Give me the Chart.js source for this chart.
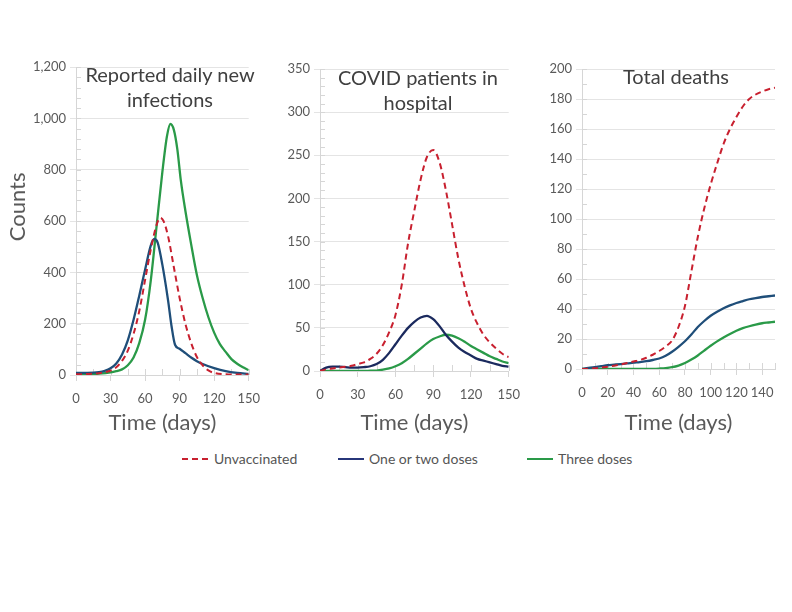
<!DOCTYPE html>
<html>
<head>
<meta charset="utf-8">
<script src="https://cdn.jsdelivr.net/npm/chart.js@4.4.1/dist/chart.umd.min.js"></script>
<style>
  body { margin: 0; background: #fff; font-family: Lato, "Noto Sans", sans-serif; }
  #wrap { position: relative; width: 792px; height: 612px; overflow: hidden; }
  canvas { position: absolute; top: 0; }
  .ptitle { position: absolute; width: 240px; text-align: center; font-size: 20px; line-height: 25px; color: #404040; }
  .leg { position: absolute; top: 451px; font-size: 14px; line-height: 16px; color: #555; }
  .sw { position: absolute; top: 458px; width: 26px; height: 2px; }
</style>
</head>
<body>
<div id="wrap">
  <canvas id="c1" width="270" height="450" style="left:0px"></canvas>
  <canvas id="c2" width="260" height="450" style="left:270px"></canvas>
  <canvas id="c3" width="262" height="450" style="left:530px"></canvas>

  <div class="ptitle" style="left:50px;top:62px">Reported daily new<br>infections</div>
  <div class="ptitle" style="left:298px;top:65px">COVID patients in<br>hospital</div>
  <div class="ptitle" style="left:556px;top:64px">Total deaths</div>

  <div class="sw" style="left:182px;background:repeating-linear-gradient(90deg,#c8202f 0 6px,transparent 6px 10px)"></div>
  <div class="leg" style="left:214px">Unvaccinated</div>
  <div class="sw" style="left:338px;background:#27367a"></div>
  <div class="leg" style="left:369px">One or two doses</div>
  <div class="sw" style="left:527px;background:#2a9a48"></div>
  <div class="leg" style="left:558px">Three doses</div>
</div>
<script>
// Panel 1: reported daily new infections
const unvaxDays1 = [0, 10, 20, 25, 30, 35, 40, 45, 50, 55, 60, 65, 70, 73, 76, 80, 85, 90, 95, 100, 105, 110, 115, 120, 130, 140, 150];
const unvaxInf   = [3, 4, 7, 11, 17, 30, 55, 95, 160, 250, 370, 490, 585, 612, 600, 540, 420, 300, 200, 125, 70, 38, 18, 8, 3, 2, 2];
const oneTwoDays1 = [0, 10, 20, 25, 30, 35, 40, 45, 50, 55, 60, 65, 68, 71, 75, 80, 83, 86, 90, 95, 100, 105, 110, 120, 130, 140, 150];
const oneTwoInf   = [8, 8, 11, 16, 26, 45, 80, 135, 215, 310, 410, 505, 530, 515, 430, 290, 190, 118, 102, 85, 68, 54, 43, 27, 15, 8, 4];
const threeDays1 = [0, 10, 20, 30, 35, 40, 45, 50, 55, 60, 65, 70, 75, 79, 82, 85, 88, 91, 95, 100, 105, 110, 115, 120, 125, 130, 135, 140, 145, 150];
const threeInf   = [2, 3, 5, 10, 15, 22, 38, 68, 125, 215, 370, 580, 790, 930, 978, 955, 880, 760, 640, 510, 390, 300, 225, 165, 120, 90, 62, 44, 30, 19];

// Panels 2 and 3 share a 5-day grid
const days = [0, 5, 10, 15, 20, 25, 30, 35, 40, 45, 50, 55, 60, 65, 70, 75, 80, 85, 90, 95, 100, 105, 110, 115, 120, 125, 130, 135, 140, 145, 150];
const unvaxHosp  = [0, 2, 3, 4, 5, 6, 8, 10, 14, 20, 30, 45, 65, 100, 148, 186, 222, 248, 256, 242, 210, 170, 130, 98, 72, 55, 42, 33, 26, 20, 16];
const oneTwoHosp = [0, 4, 5, 5, 4.5, 4, 4, 4.5, 5.5, 8, 13, 21, 31, 41, 50, 57, 62, 64, 60, 52, 42, 34, 27, 22, 18, 14, 12, 10, 8, 6, 5];
const threeHosp  = [0, 0, 0, 0, 0, 0, 0, 0, 0.3, 0.5, 1.5, 3, 5.5, 9, 14, 20, 26, 32, 37, 40, 42, 41, 38, 34, 29, 25, 21, 17, 14, 11, 9];

const unvaxDeaths  = [0, 0.2, 0.5, 1, 1.5, 2.2, 3, 4, 5, 6, 7.5, 9.5, 12, 15, 19, 28, 42, 65, 88, 107, 123, 137, 150, 160, 168, 175, 180, 183, 185, 186.5, 187.5];
const oneTwoDeaths = [0, 0.7, 1.3, 1.9, 2.5, 2.9, 3.3, 3.7, 4.2, 4.6, 5.2, 6, 7, 8.8, 11.5, 14.8, 18.5, 23, 28, 32, 35.5, 38.2, 40.5, 42.4, 44, 45.3, 46.5, 47.3, 48, 48.5, 49];
const threeDeaths  = [0, 0, 0, 0, 0, 0, 0, 0, 0, 0, 0, 0.1, 0.3, 0.6, 1.2, 2.3, 4, 6.3, 9, 12.3, 15.5, 18.4, 21, 23.4, 25.5, 27.2, 28.5, 29.6, 30.5, 31, 31.5];

// x-axis tick labels
const xTicks30 = [0, 30, 60, 90, 120, 150];
const xTicks20 = [0, 20, 40, 60, 80, 100, 120, 140];

const seriesNames = ["Unvaccinated", "One or two doses", "Three doses"];

const RED = "#c8202f", BLUE = "#1f4e79", NAVY = "#1b2a5e", GREEN = "#2a9a48";
const GRID = "#e4e4e4", AXIS = "#d6d6d6", TICK = "#5a5a5a";
const FONT = "Lato, 'Noto Sans', sans-serif";

function pts(xs, ys) {
  return xs.map((x, i) => ({ x: x, y: ys[i] }));
}

function ds(label, data, color, dashed) {
  return {
    label: label,
    data: data,
    borderColor: color,
    borderWidth: dashed ? 2 : 2.3,
    borderDash: dashed ? [6, 4] : [],
    pointRadius: 0,
    fill: false,
    cubicInterpolationMode: "monotone",
  };
}

// small inward tick marks like the original axes
const minorTicks = {
  id: "minorTicks",
  beforeDatasetsDraw(chart, args, opts) {
    const { ctx, chartArea, scales } = chart;
    const x = scales.x, y = scales.y;
    ctx.save();
    ctx.strokeStyle = AXIS;
    ctx.lineWidth = 1;
    ctx.beginPath();
    for (let v = x.min; v <= x.max + 0.01; v += opts.xStep) {
      const px = Math.round(x.getPixelForValue(v)) + 0.5;
      ctx.moveTo(px, chartArea.bottom - 6);
      ctx.lineTo(px, chartArea.bottom);
    }
    for (let v = y.min; v <= y.max + 0.01; v += opts.yStep) {
      const py = Math.round(y.getPixelForValue(v)) + 0.5;
      ctx.moveTo(chartArea.left, py);
      ctx.lineTo(chartArea.left + 5, py);
    }
    ctx.stroke();
    ctx.restore();
  },
};

function makeChart(id, datasets, o) {
  return new Chart(document.getElementById(id), {
    type: "line",
    data: { datasets: datasets },
    plugins: [minorTicks],
    options: {
      responsive: false,
      animation: false,
      layout: { padding: { top: o.top, right: o.right, bottom: 0, left: 0 } },
      plugins: {
        legend: { display: false },
        tooltip: { enabled: false },
        minorTicks: { xStep: o.xMinor, yStep: o.yMinor },
      },
      scales: {
        x: {
          type: "linear",
          min: 0,
          max: 150,
          ticks: { autoSkip: false, color: TICK, font: { family: FONT, size: 13 }, padding: 10, maxRotation: 0 },
          afterBuildTicks: (s) => { s.ticks = o.xTicks.map((v) => ({ value: v })); },
          grid: { drawOnChartArea: false, tickLength: 6, color: AXIS },
          border: { color: AXIS },
          title: { display: true, text: "Time (days)", color: TICK, font: { family: FONT, size: 22 }, padding: { top: 0, bottom: 14 } },
          afterFit: (s) => { s.height = o.xh; },
        },
        y: {
          min: 0,
          max: o.yMax,
          ticks: { stepSize: o.yStep, color: TICK, font: { family: FONT, size: 13 }, padding: 4 },
          grid: { color: GRID, tickLength: 6, tickColor: GRID },
          border: { color: AXIS },
          title: { display: !!o.yTitle, text: o.yTitle || "", color: TICK, font: { family: FONT, size: 22 }, padding: { top: 5, bottom: 0 } },
          afterFit: (s) => { s.width = o.yw; },
        },
      },
    },
  });
}

makeChart("c1", [
  ds(seriesNames[0], pts(unvaxDays1, unvaxInf), RED, true),
  ds(seriesNames[1], pts(oneTwoDays1, oneTwoInf), BLUE, false),
  ds(seriesNames[2], pts(threeDays1, threeInf), GREEN, false),
], { top: 67, right: 20, xh: 75, yw: 76, yMax: 1200, yStep: 200, yMinor: 40, xTicks: xTicks30, xMinor: 15, yTitle: "     Counts" });

makeChart("c2", [
  ds(seriesNames[0], pts(days, unvaxHosp), RED, true),
  ds(seriesNames[1], pts(days, oneTwoHosp), NAVY, false),
  ds(seriesNames[2], pts(days, threeHosp), GREEN, false),
], { top: 69, right: 18, xh: 79, yw: 50, yMax: 350, yStep: 50, yMinor: 10, xTicks: xTicks30, xMinor: 15 });

makeChart("c3", [
  ds(seriesNames[0], pts(days, unvaxDeaths), RED, true),
  ds(seriesNames[1], pts(days, oneTwoDeaths), BLUE, false),
  ds(seriesNames[2], pts(days, threeDeaths), GREEN, false),
], { top: 69, right: 17, xh: 81, yw: 52, yMax: 200, yStep: 20, yMinor: 10, xTicks: xTicks20, xMinor: 10 });
</script>
</body>
</html>
